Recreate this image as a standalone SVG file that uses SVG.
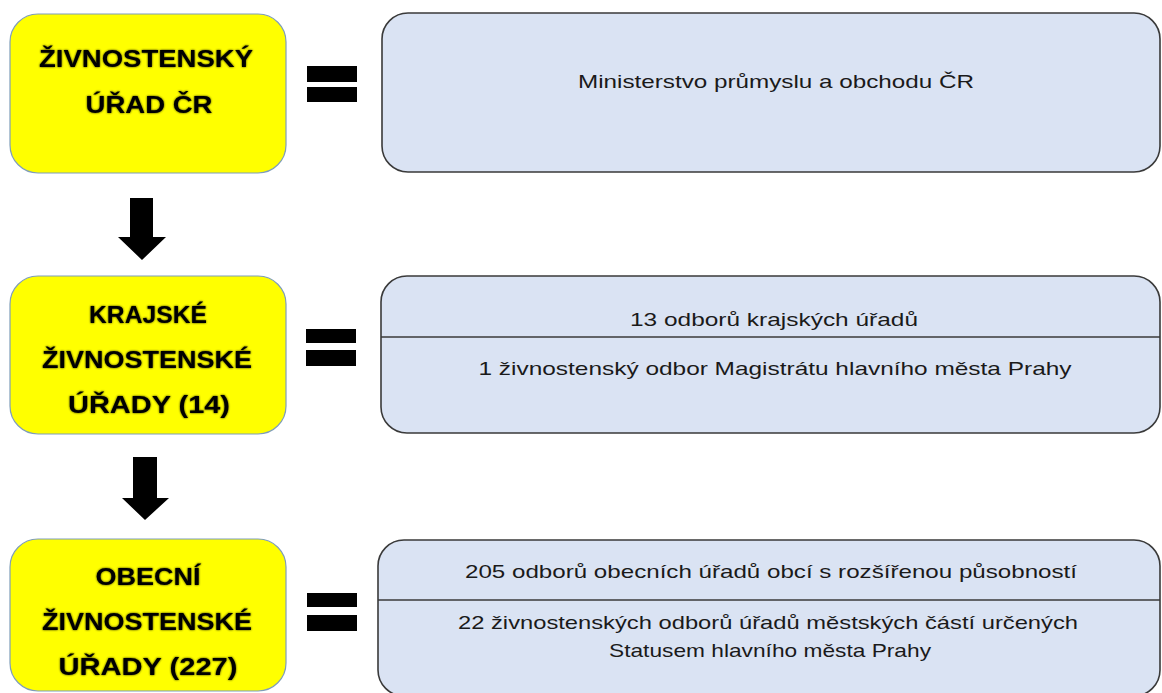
<svg xmlns="http://www.w3.org/2000/svg" width="1162" height="693" viewBox="0 0 1162 693">
<defs>
<filter id="glow" x="-10%" y="-30%" width="120%" height="160%">
<feGaussianBlur in="SourceAlpha" stdDeviation="1.1" result="b"/>
<feComponentTransfer in="b" result="s"><feFuncA type="linear" slope="0.8"/></feComponentTransfer>
<feMerge><feMergeNode in="s"/><feMergeNode in="SourceGraphic"/></feMerge>
</filter>
</defs>
<style>
.yb{fill:#FFFF00;stroke:#7F9DB9;stroke-width:1.2}
.bb{fill:#DAE3F3;stroke:#3A3A3A;stroke-width:1.6}
.div{stroke:#3A3A3A;stroke-width:1.6}
.yt{font-family:"Liberation Sans",Arial,sans-serif;font-weight:bold;font-size:24px;fill:#000;text-anchor:middle;filter:url(#glow)}
.bt{font-family:"Liberation Sans",Arial,sans-serif;font-size:19px;fill:#1a1a1a;text-anchor:middle}
.eq{fill:#000}
.arr{fill:#000}
</style>
<rect width="1162" height="693" fill="#fff"/>

<g id="node-zu-cr">
<rect class="yb" x="10" y="14" width="276" height="159" rx="28"/>
<text class="yt" x="146" y="67" textLength="214" lengthAdjust="spacingAndGlyphs">ŽIVNOSTENSKÝ</text>
<text class="yt" x="149" y="113" textLength="127" lengthAdjust="spacingAndGlyphs">ÚŘAD ČR</text>
</g>

<g id="node-mpo">
<rect class="bb" x="382" y="13" width="778" height="159" rx="26"/>
<text class="bt" x="776" y="88" textLength="396" lengthAdjust="spacingAndGlyphs">Ministerstvo průmyslu a obchodu ČR</text>
</g>

<g id="node-kzu">
<rect class="yb" x="10" y="276" width="276" height="158" rx="28"/>
<text class="yt" x="148" y="323" textLength="118" lengthAdjust="spacingAndGlyphs">KRAJSKÉ</text>
<text class="yt" x="147" y="368" textLength="210" lengthAdjust="spacingAndGlyphs">ŽIVNOSTENSKÉ</text>
<text class="yt" x="149" y="413" textLength="162" lengthAdjust="spacingAndGlyphs">ÚŘADY (14)</text>
</g>

<g id="node-kraje">
<rect class="bb" x="381" y="276" width="779" height="157" rx="26"/>
<line class="div" x1="381" y1="337" x2="1160" y2="337"/>
<text class="bt" x="774" y="326" textLength="288" lengthAdjust="spacingAndGlyphs">13 odborů krajských úřadů</text>
<text class="bt" x="775" y="375" textLength="593" lengthAdjust="spacingAndGlyphs">1 živnostenský odbor Magistrátu hlavního města Prahy</text>
</g>

<g id="node-ozu">
<rect class="yb" x="10" y="539" width="276" height="152" rx="28"/>
<text class="yt" x="148" y="585" textLength="105" lengthAdjust="spacingAndGlyphs">OBECNÍ</text>
<text class="yt" x="147" y="630" textLength="210" lengthAdjust="spacingAndGlyphs">ŽIVNOSTENSKÉ</text>
<text class="yt" x="148" y="675" textLength="179" lengthAdjust="spacingAndGlyphs">ÚŘADY (227)</text>
</g>

<g id="node-obce">
<rect class="bb" x="378" y="540" width="782" height="156" rx="26"/>
<line class="div" x1="378" y1="600" x2="1160" y2="600"/>
<text class="bt" x="771" y="578" textLength="612" lengthAdjust="spacingAndGlyphs">205 odborů obecních úřadů obcí s rozšířenou působností</text>
<text class="bt" x="768" y="629" textLength="620" lengthAdjust="spacingAndGlyphs">22 živnostenských odborů úřadů městských částí určených</text>
<text class="bt" x="770" y="657" textLength="322" lengthAdjust="spacingAndGlyphs">Statusem hlavního města Prahy</text>
</g>

<g id="connectors">
<g id="eq1" class="eq">
<rect x="307" y="66" width="50" height="16"/>
<rect x="307" y="87" width="50" height="15"/>
</g>
<g id="eq2" class="eq">
<rect x="306" y="329" width="50" height="14"/>
<rect x="306" y="350" width="50" height="16"/>
</g>
<g id="eq3" class="eq">
<rect x="307" y="593" width="50" height="14"/>
<rect x="307" y="615" width="50" height="16"/>
</g>
<polygon id="arrow1" class="arr" points="130,198 153,198 153,237 166,237 142,260 118,237 130,237"/>
<polygon id="arrow2" class="arr" points="133,457 157,457 157,498 169,498 145,520 122,498 133,498"/>
</g>
</svg>
